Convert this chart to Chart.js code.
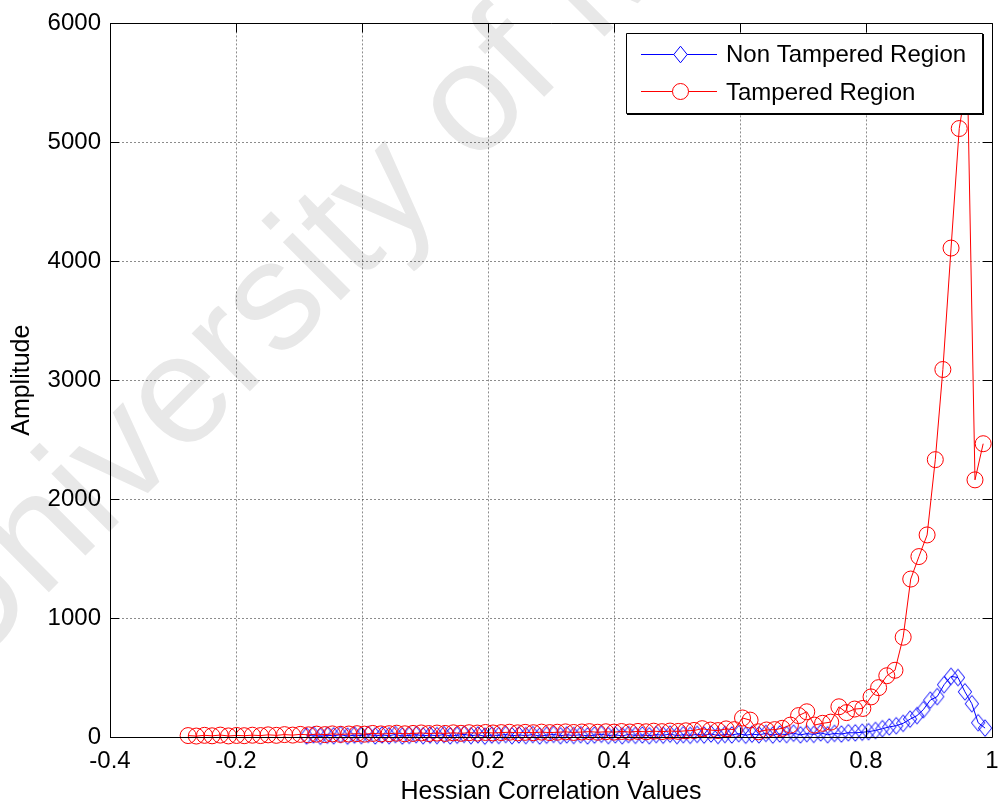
<!DOCTYPE html>
<html>
<head>
<meta charset="utf-8">
<script src="https://cdn.jsdelivr.net/npm/chart.js@4.4.0/dist/chart.umd.min.js"></script>
<style>
  html, body { margin: 0; padding: 0; background: #fff; }
</style>
</head>
<body>
<canvas id="chart" width="1001" height="807"></canvas>
<script>
// histogram of hessian correlation values
const xTicks = [-0.4, -0.2, 0, 0.2, 0.4, 0.6, 0.8, 1];
const yTicks = [0, 1000, 2000, 3000, 4000, 5000, 6000];

const nonTamperedX = [
  -0.088, -0.077, -0.066, -0.055, -0.045, -0.034, -0.023, -0.012, -0.001, 0.010,
  0.021, 0.032, 0.043, 0.053, 0.064, 0.075, 0.086, 0.097, 0.108, 0.119,
  0.130, 0.140, 0.151, 0.162, 0.173, 0.184, 0.195, 0.206, 0.217, 0.228,
  0.238, 0.249, 0.260, 0.271, 0.282, 0.293, 0.304, 0.315, 0.325, 0.336,
  0.347, 0.358, 0.369, 0.380, 0.391, 0.402, 0.413, 0.423, 0.434, 0.445,
  0.456, 0.467, 0.478, 0.489, 0.500, 0.510, 0.521, 0.532, 0.543, 0.554,
  0.565, 0.576, 0.587, 0.598, 0.609, 0.619, 0.630, 0.641, 0.652, 0.663,
  0.674, 0.685, 0.696, 0.706, 0.717, 0.728, 0.739, 0.750, 0.761, 0.772,
  0.783, 0.794, 0.804, 0.815, 0.826, 0.837, 0.848, 0.859, 0.870, 0.881,
  0.891, 0.902, 0.913, 0.924, 0.935, 0.946, 0.957, 0.968, 0.978, 0.989
];
const nonTamperedY = [
  8, 18, 6, 15, 10, 20, 7, 16, 12, 22,
  9, 17, 11, 21, 8, 14, 19, 10, 16, 12,
  20, 9, 15, 22, 11, 18, 7, 16, 13, 21,
  10, 17, 12, 20, 8, 15, 22, 11, 18, 13,
  19, 9, 16, 23, 12, 18, 10, 21, 14, 17,
  11, 20, 15, 24, 12, 19, 14, 22, 16, 25,
  13, 21, 17, 28, 15, 24, 18, 30, 16, 26,
  20, 32, 18, 28, 22, 35, 19, 30, 25, 36,
  35, 40, 45, 55, 70, 85, 95, 115, 150, 180,
  230, 310, 340, 440, 510, 500, 380, 280, 120, 75
];

const tamperedX = [
  -0.276, -0.263, -0.250, -0.238, -0.225, -0.212, -0.199, -0.187, -0.174, -0.161,
  -0.149, -0.136, -0.123, -0.110, -0.098, -0.085, -0.072, -0.059, -0.047, -0.034,
  -0.021, -0.008, 0.004, 0.017, 0.030, 0.043, 0.055, 0.068, 0.081, 0.094,
  0.106, 0.119, 0.132, 0.145, 0.157, 0.170, 0.183, 0.196, 0.208, 0.221,
  0.234, 0.247, 0.259, 0.272, 0.285, 0.298, 0.310, 0.323, 0.336, 0.349,
  0.361, 0.374, 0.387, 0.400, 0.412, 0.425, 0.438, 0.451, 0.463, 0.476,
  0.489, 0.502, 0.514, 0.527, 0.540, 0.553, 0.565, 0.578, 0.591, 0.604,
  0.616, 0.629, 0.642, 0.655, 0.667, 0.680, 0.693, 0.706, 0.718, 0.731,
  0.744, 0.757, 0.769, 0.782, 0.795, 0.808, 0.820, 0.833, 0.846, 0.859,
  0.871, 0.884, 0.897, 0.910, 0.922, 0.935, 0.948, 0.961, 0.973, 0.986
];
const tamperedY = [
  12, 8, 14, 10, 16, 9, 13, 11, 15, 12,
  18, 14, 20, 16, 22, 18, 24, 20, 26, 22,
  25, 28, 24, 30, 26, 28, 32, 27, 30, 34,
  29, 33, 30, 35, 31, 36, 33, 38, 34, 37,
  40, 35, 39, 36, 41, 37, 40, 43, 38, 42,
  45, 40, 44, 41, 46, 42, 47, 44, 49, 45,
  50, 47, 52, 55, 70, 58, 54, 68, 62, 160,
  142, 44, 59, 62, 73, 100, 180, 212, 100, 115,
  125, 254, 205, 235, 240, 337, 415, 515, 561, 839,
  1328, 1517, 1699, 2332, 3090, 4111, 5116, 5550, 2162, 2466
];

const FONT = 'Arial, "Liberation Sans", Helvetica, sans-serif';
Chart.defaults.font.family = FONT;
Chart.defaults.font.size = 24;
Chart.defaults.color = '#000';

const toPoints = (xs, ys) => xs.map((x, i) => ({ x: x, y: ys[i] }));

// matlab diamonds are a bit taller than wide
function diamondPath(ctx, cx, cy) {
  ctx.beginPath();
  ctx.moveTo(cx, cy - 8.3);
  ctx.lineTo(cx + 6.7, cy);
  ctx.lineTo(cx, cy + 8.3);
  ctx.lineTo(cx - 6.7, cy);
  ctx.closePath();
}
const diamond = document.createElement('canvas');
diamond.width = 16;
diamond.height = 20;
(() => {
  const c = diamond.getContext('2d');
  c.strokeStyle = '#0000ff';
  c.lineWidth = 1;
  diamondPath(c, 8, 10);
  c.stroke();
})();

// white page + faint watermark behind everything
const background = {
  id: 'background',
  beforeDraw(chart) {
    const ctx = chart.ctx;
    ctx.save();
    ctx.fillStyle = '#fff';
    ctx.fillRect(0, 0, chart.width, chart.height);
    ctx.translate(-38, 679);
    ctx.rotate(-45 * Math.PI / 180);
    ctx.font = '155px ' + FONT;
    ctx.fillStyle = '#e8e8e8';
    ctx.textBaseline = 'alphabetic';
    ctx.fillText('University of Malaya', 0, 0);
    ctx.restore();
  }
};

// matlab style box, inward ticks and legend
const frame = {
  id: 'frame',
  afterDatasetsDraw(chart) {
    const ctx = chart.ctx;
    const { left, right, top, bottom } = chart.chartArea;
    const xs = chart.scales.x, ys = chart.scales.y;
    ctx.save();
    ctx.strokeStyle = '#000';
    ctx.lineWidth = 1;
    ctx.beginPath();
    ctx.rect(Math.round(left) + 0.5, Math.round(top) + 0.5, Math.round(right - left), Math.round(bottom - top));
    xTicks.forEach(v => {
      const px = Math.round(xs.getPixelForValue(v)) + 0.5;
      ctx.moveTo(px, bottom); ctx.lineTo(px, bottom - 9);
      ctx.moveTo(px, top); ctx.lineTo(px, top + 9);
    });
    yTicks.forEach(v => {
      const py = Math.round(ys.getPixelForValue(v)) + 0.5;
      ctx.moveTo(left, py); ctx.lineTo(left + 9, py);
      ctx.moveTo(right, py); ctx.lineTo(right - 9, py);
    });
    ctx.stroke();

    // legend box
    const bx = 626, by = 33, bw = 356, bh = 80;
    ctx.fillStyle = '#fff';
    ctx.fillRect(bx, by, bw, bh);
    ctx.beginPath();
    ctx.rect(bx + 0.5, by + 0.5, bw, bh);
    ctx.moveTo(bx + bw + 1.5, by + 1); ctx.lineTo(bx + bw + 1.5, by + bh + 2);
    ctx.moveTo(bx + 1, by + bh + 1.5); ctx.lineTo(bx + bw + 2, by + bh + 1.5);
    ctx.stroke();

    // blue entry
    ctx.strokeStyle = '#0000ff';
    ctx.beginPath();
    ctx.moveTo(641, 54.5); ctx.lineTo(717, 54.5);
    ctx.stroke();
    ctx.fillStyle = '#fff';
    diamondPath(ctx, 680.5, 54.5);
    ctx.fill(); ctx.stroke();

    // red entry
    ctx.strokeStyle = '#ff0000';
    ctx.beginPath();
    ctx.moveTo(641, 91.5); ctx.lineTo(717, 91.5);
    ctx.stroke();
    ctx.beginPath();
    ctx.arc(680.5, 91.5, 8, 0, Math.PI * 2);
    ctx.fill(); ctx.stroke();

    ctx.fillStyle = '#000';
    ctx.font = '24px ' + FONT;
    ctx.textAlign = 'left';
    ctx.textBaseline = 'middle';
    ctx.fillText('Non Tampered Region', 726, 55);
    ctx.fillText('Tampered Region', 726, 93);
    ctx.restore();
  }
};

new Chart(document.getElementById('chart'), {
  type: 'scatter',
  data: {
    datasets: [
      {
        label: 'Non Tampered Region',
        data: toPoints(nonTamperedX, nonTamperedY),
        showLine: true,
        borderColor: '#0000ff',
        borderWidth: 1,
        pointStyle: diamond,
        pointRadius: 8,
        clip: false,
        order: 1
      },
      {
        label: 'Tampered Region',
        data: toPoints(tamperedX, tamperedY),
        showLine: true,
        borderColor: '#ff0000',
        borderWidth: 1,
        pointStyle: 'circle',
        pointRadius: 8,
        pointBorderColor: '#ff0000',
        pointBackgroundColor: 'rgba(0,0,0,0)',
        pointBorderWidth: 1,
        clip: false,
        order: 0
      }
    ]
  },
  options: {
    responsive: false,
    animation: false,
    layout: { padding: { top: 20, right: 9, bottom: 0, left: 0 } },
    plugins: { legend: { display: false }, tooltip: { enabled: false } },
    scales: {
      x: {
        type: 'linear',
        min: -0.4,
        max: 1,
        afterBuildTicks: s => { s.ticks = xTicks.map(v => ({ value: v })); },
        afterFit: s => { s.height = 70; s.paddingLeft = 0; s.paddingRight = 0; },
        ticks: { padding: 10, maxRotation: 0, autoSkip: false, callback: v => String(v) },
        grid: { color: 'rgba(0,0,0,0.45)', drawTicks: false, lineWidth: 1 },
        border: { display: false, dash: [2, 2] },
        title: { display: true, text: 'Hessian Correlation Values', font: { size: 25 }, padding: { top: 0, bottom: 0 } }
      },
      y: {
        min: 0,
        max: 6000,
        afterBuildTicks: s => { s.ticks = yTicks.map(v => ({ value: v })); },
        afterFit: s => { s.width = 110; },
        ticks: { padding: 9, callback: v => String(v) },
        grid: { color: 'rgba(0,0,0,0.45)', drawTicks: false, lineWidth: 1 },
        border: { display: false, dash: [2, 2] },
        title: { display: true, text: 'Amplitude', font: { size: 25 }, padding: { top: 7, bottom: 0 } }
      }
    }
  },
  plugins: [background, frame]
});
</script>
</body>
</html>
